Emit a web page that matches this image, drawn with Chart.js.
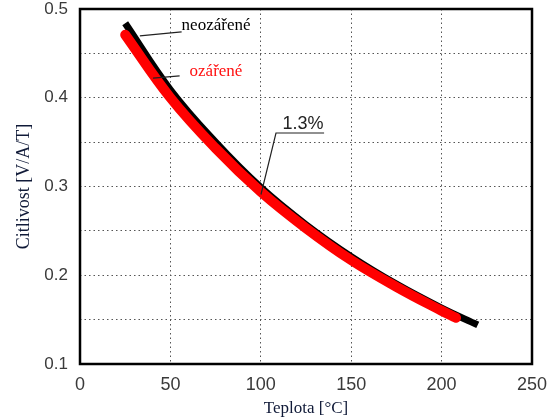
<!DOCTYPE html>
<html lang="cs">
<head>
<meta charset="UTF-8">
<title>Citlivost vs. teplota</title>
<script src="https://cdn.jsdelivr.net/npm/chart.js"></script>
<style>
  html, body { margin: 0; padding: 0; background: #fff; }
  canvas { display: block; }
</style>
</head>
<body>
<canvas id="chart" width="554" height="419"></canvas>
<script>
// teplota [°C] a citlivost [V/A/T]
const tempIrradiated = [25, 50, 75, 100, 125, 150, 175, 200, 208];
const sensIrradiated = [0.471, 0.400, 0.343, 0.294, 0.253, 0.217, 0.187, 0.160, 0.152];

const tempPlain = [25, 50, 75, 100, 125, 150, 175, 200, 220];
const sensPlain = [0.484, 0.409, 0.350, 0.299, 0.257, 0.221, 0.190, 0.163, 0.144];

const xTicks = [0, 50, 100, 150, 200, 250];
const yTicks = [0.1, 0.2, 0.3, 0.4, 0.5];

const serif = '"Liberation Serif", "Times New Roman", serif';
const sans = '"Liberation Sans", Arial, sans-serif';

function toPoints(xs, ys) {
    return xs.map((x, i) => ({ x: x, y: ys[i] }));
}

// frame around the plot area
const framePlugin = {
    id: 'frame',
    beforeDatasetsDraw(chart) {
        const { ctx, chartArea: a } = chart;
        ctx.save();
        ctx.strokeStyle = '#000';
        ctx.lineWidth = 2.5;
        ctx.strokeRect(a.left, a.top, a.right - a.left, a.bottom - a.top);
        ctx.restore();
    }
};

// labels with leader lines, positioned in data units
const labelPlugin = {
    id: 'labels',
    afterDatasetsDraw(chart) {
        const { ctx } = chart;
        const xs = chart.scales.x, ys = chart.scales.y;
        const px = v => xs.getPixelForValue(v);
        const py = v => ys.getPixelForValue(v);

        function leader(pts) {
            ctx.beginPath();
            pts.forEach((p, i) => {
                if (i === 0) ctx.moveTo(px(p[0]), py(p[1]));
                else ctx.lineTo(px(p[0]), py(p[1]));
            });
            ctx.stroke();
        }

        ctx.save();
        ctx.strokeStyle = '#222';
        ctx.lineWidth = 1.2;
        leader([[33.1, 0.4697], [56.2, 0.4742]]);
        leader([[40.4, 0.4221], [55.1, 0.4247]]);
        leader([[100.1, 0.291], [108.4, 0.3603], [135.0, 0.3603]]);

        ctx.textBaseline = 'alphabetic';
        ctx.textAlign = 'left';
        ctx.font = '17px ' + serif;
        ctx.fillStyle = '#000';
        ctx.fillText('neozářené', px(56.2), py(0.4764));
        ctx.fillStyle = '#ff1010';
        ctx.fillText('ozářené', px(60.6), py(0.4247));

        ctx.textAlign = 'center';
        ctx.font = '18px ' + sans;
        ctx.fillStyle = '#222';
        ctx.fillText('1.3%', px(123.4), py(0.3645));
        ctx.restore();
    }
};

new Chart(document.getElementById('chart'), {
    type: 'line',
    data: {
        datasets: [
            {
                label: 'ozářené',
                data: toPoints(tempIrradiated, sensIrradiated),
                borderColor: '#ff0000',
                borderWidth: 10,
                borderCapStyle: 'round',
                pointRadius: 0,
                tension: 0.4
            },
            {
                label: 'neozářené',
                data: toPoints(tempPlain, sensPlain),
                borderColor: '#000',
                borderWidth: 7,
                borderCapStyle: 'butt',
                pointRadius: 0,
                tension: 0.4
            }
        ]
    },
    options: {
        responsive: false,
        animation: false,
        layout: { padding: { top: 9, right: 22, left: 0, bottom: 0 } },
        plugins: {
            legend: { display: false },
            tooltip: { enabled: false }
        },
        scales: {
            x: {
                type: 'linear',
                min: 0,
                max: 250,
                afterFit: s => {
                    s.height = 55;
                    s.paddingLeft = 0;
                    s.paddingRight = 0;
                },
                afterBuildTicks: s => { s.ticks = xTicks.map(v => ({ value: v })); },
                ticks: {
                    padding: 10,
                    color: '#3a3a3a',
                    font: { family: sans, size: 18 }
                },
                grid: { color: '#555', lineWidth: 1, drawTicks: false },
                border: { display: false, dash: [1.5, 3] },
                title: {
                    display: true,
                    text: 'Teplota [°C]',
                    color: '#101a38',
                    font: { family: serif, size: 17 },
                    padding: 0
                }
            },
            y: {
                type: 'linear',
                min: 0.1,
                max: 0.5,
                afterFit: s => {
                    s.width = 80;
                    s.paddingTop = 0;
                    s.paddingBottom = 0;
                },
                ticks: {
                    stepSize: 0.05,
                    padding: 12,
                    color: '#3a3a3a',
                    font: { family: sans, size: 17 },
                    callback: v => {
                        const r = Math.round(v * 100) / 100;
                        return yTicks.some(t => Math.abs(t - r) < 1e-6) ? r.toFixed(1) : '';
                    }
                },
                grid: { color: '#555', lineWidth: 1, drawTicks: false },
                border: { display: false, dash: [1.5, 3] },
                title: {
                    display: true,
                    text: 'Citlivost [V/A/T]',
                    color: '#101a38',
                    font: { family: serif, size: 18 },
                    padding: { top: 13, bottom: 0 }
                }
            }
        }
    },
    plugins: [framePlugin, labelPlugin]
});
</script>
</body>
</html>
